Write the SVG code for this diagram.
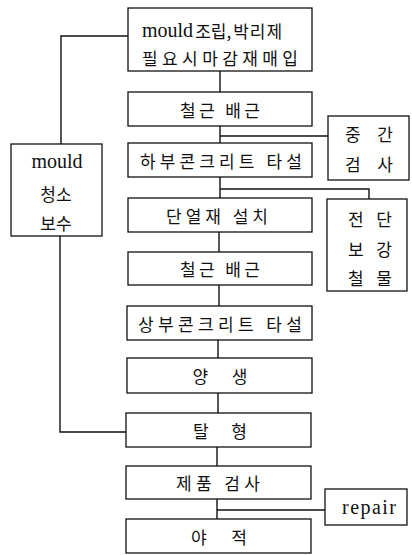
<svg xmlns="http://www.w3.org/2000/svg" width="412" height="555" viewBox="0 0 412 555">
<style>
rect{fill:#fff;stroke:#111;stroke-width:1.3}
.c line,.c polyline{stroke:#111;stroke-width:1.4;fill:none}
text{fill:#111;text-anchor:middle;dominant-baseline:central}
.k{font-family:"Noto Sans CJK KR",sans-serif;font-size:17px}
.l{font-family:"Liberation Serif",serif;font-size:20px}
.s{text-anchor:start}
</style>
<rect width="412" height="555" style="fill:#fff;stroke:none"/>
<g class="c" id="connectors">
<line x1="220" y1="71" x2="220" y2="92"/>
<line x1="220" y1="126" x2="220" y2="143"/>
<line x1="220" y1="136" x2="328" y2="136"/>
<line x1="220" y1="177" x2="220" y2="198"/>
<polyline points="220,189 369,189 369,199"/>
<line x1="219" y1="232" x2="219" y2="252"/>
<line x1="219" y1="285" x2="219" y2="306"/>
<line x1="218" y1="340" x2="218" y2="358"/>
<line x1="218" y1="393" x2="218" y2="413"/>
<line x1="217" y1="447" x2="217" y2="466"/>
<line x1="217" y1="499" x2="217" y2="519"/>
<line x1="217" y1="510" x2="325" y2="510"/>
<polyline points="128,36 61,36 61,144"/>
<polyline points="60,236 60,432 127,432"/>
</g>
<g id="n1"><rect x="128" y="8" width="184" height="63"/>
<text class="s" x="142" y="30"><tspan class="l">mould</tspan><tspan class="k" dx="2">조립,</tspan><tspan class="k" dx="2" letter-spacing="1">박리제</tspan></text>
<text class="k" x="220" y="57" textLength="156" lengthAdjust="spacing">필요시마감재매입</text></g>
<g id="n2"><rect x="128" y="92" width="184" height="34"/><text class="k" x="220" y="109" textLength="80" lengthAdjust="spacing">철근 배근</text></g>
<g id="n3"><rect x="128" y="143" width="184" height="34"/><text class="k" x="221" y="160" textLength="162" lengthAdjust="spacing">하부콘크리트 타설</text></g>
<g id="n4"><rect x="128" y="198" width="184" height="34"/><text class="k" x="217" y="215" textLength="102" lengthAdjust="spacing">단열재 설치</text></g>
<g id="n5"><rect x="128" y="252" width="184" height="33"/><text class="k" x="220" y="268" textLength="80" lengthAdjust="spacing">철근 배근</text></g>
<g id="n6"><rect x="127" y="306" width="185" height="34"/><text class="k" x="220" y="323" textLength="164" lengthAdjust="spacing">상부콘크리트 타설</text></g>
<g id="n7"><rect x="127" y="358" width="185" height="35"/><text class="k" x="220" y="375" textLength="55" lengthAdjust="spacing">양 생</text></g>
<g id="n8"><rect x="126" y="413" width="185" height="34"/><text class="k" x="220" y="430" textLength="54" lengthAdjust="spacing">탈 형</text></g>
<g id="n9"><rect x="126" y="466" width="185" height="33"/><text class="k" x="218" y="482" textLength="84" lengthAdjust="spacing">제품 검사</text></g>
<g id="n10"><rect x="126" y="519" width="185" height="34"/><text class="k" x="219" y="536" textLength="56" lengthAdjust="spacing">야 적</text></g>
<g id="n11"><rect x="328" y="116" width="81" height="64"/>
<text class="k" x="369" y="133" textLength="48" lengthAdjust="spacing">중 간</text>
<text class="k" x="369" y="163" textLength="48" lengthAdjust="spacing">검 사</text></g>
<g id="n12"><rect x="327" y="199" width="80" height="92"/>
<text class="k" x="370" y="218" textLength="44" lengthAdjust="spacing">전 단</text>
<text class="k" x="370" y="248" textLength="44" lengthAdjust="spacing">보 강</text>
<text class="k" x="370" y="277" textLength="44" lengthAdjust="spacing">철 물</text></g>
<g id="n13"><rect x="11" y="144" width="91" height="92"/>
<text class="l" x="57" y="161">mould</text>
<text class="k" x="56" y="193">청소</text>
<text class="k" x="56" y="222">보수</text></g>
<g id="n14"><rect x="325" y="489" width="82" height="36"/><text class="l" x="369" y="507" textLength="54" lengthAdjust="spacing">repair</text></g>
</svg>
